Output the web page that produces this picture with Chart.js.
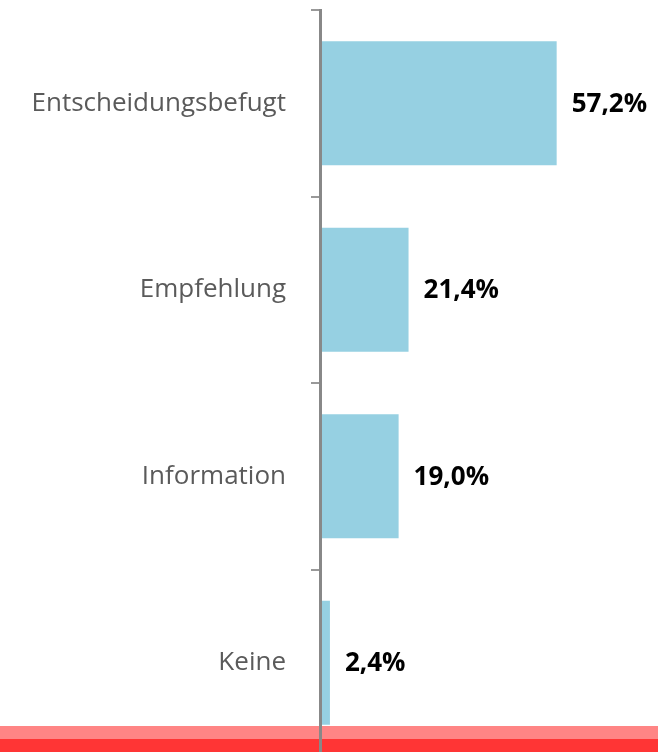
<!DOCTYPE html>
<html>
<head>
<meta charset="utf-8">
<script src="https://cdn.jsdelivr.net/npm/chart.js@4/dist/chart.umd.min.js"></script>
<style>
  html, body { margin: 0; padding: 0; background: #fff; overflow: hidden; }
  #stage { position: relative; width: 658px; height: 752px; overflow: hidden; }
  .band { position: absolute; left: 0; width: 658px; }
  #bandLight { top: 726px; height: 13px; background: #ff8585; }
  #bandDark { top: 739px; height: 13px; background: #ff3535; }
  #chart { position: absolute; left: 0; top: 0; width: 658px; height: 766px; }
</style>
</head>
<body>
<div id="stage">
  <div class="band" id="bandLight"></div>
  <div class="band" id="bandDark"></div>
  <canvas id="chart" width="658" height="766"></canvas>
</div>
<script>
// Daten
const categories = ["Entscheidungsbefugt", "Empfehlung", "Information", "Keine"];
const shares = [57.2, 21.4, 19.0, 2.4];

// Prozentwerte rechts neben die Balken schreiben
const valueLabels = {
    id: "valueLabels",
    afterDatasetsDraw(chart) {
        const ctx = chart.ctx;
        const meta = chart.getDatasetMeta(0);
        ctx.save();
        ctx.font = "bold 26px 'Open Sans'";
        ctx.fillStyle = "#000";
        ctx.textAlign = "left";
        ctx.textBaseline = "middle";
        meta.data.forEach((bar, i) => {
            const txt = shares[i].toFixed(1).replace(".", ",") + "%";
            ctx.fillText(txt, bar.x + 15, bar.y + 1);
        });
        ctx.restore();
    }
};

const ctx = document.getElementById("chart").getContext("2d");
const chart = new Chart(ctx, {
    type: "bar",
    data: {
        labels: categories,
        datasets: [{
            data: shares,
            backgroundColor: "#96d0e2",
            barPercentage: 0.665,
            categoryPercentage: 1
        }]
    },
    options: {
        indexAxis: "y",
        responsive: false,
        maintainAspectRatio: false,
        animation: false,
        layout: { padding: { top: 10, bottom: 10, left: 0, right: 7 } },
        plugins: {
            legend: { display: false },
            tooltip: { enabled: false }
        },
        scales: {
            x: { display: false, min: 0, max: 80 },
            y: {
                afterFit(scale) {
                    // feste Achsenbreite, kein Extra-Rand oben/unten
                    scale.width = 320;
                    scale.paddingTop = 0;
                    scale.paddingBottom = 0;
                },
                border: { color: "#888", width: 3, z: 1 },
                grid: {
                    drawOnChartArea: false,
                    drawTicks: true,
                    tickLength: 9,
                    color: "#999",
                    lineWidth: 2,
                    offset: true
                },
                ticks: {
                    color: "#5a5a5a",
                    padding: 25,
                    font: { family: "'Open Sans'", size: 26 }
                }
            }
        }
    },
    plugins: [valueLabels]
});
</script>
</body>
</html>
